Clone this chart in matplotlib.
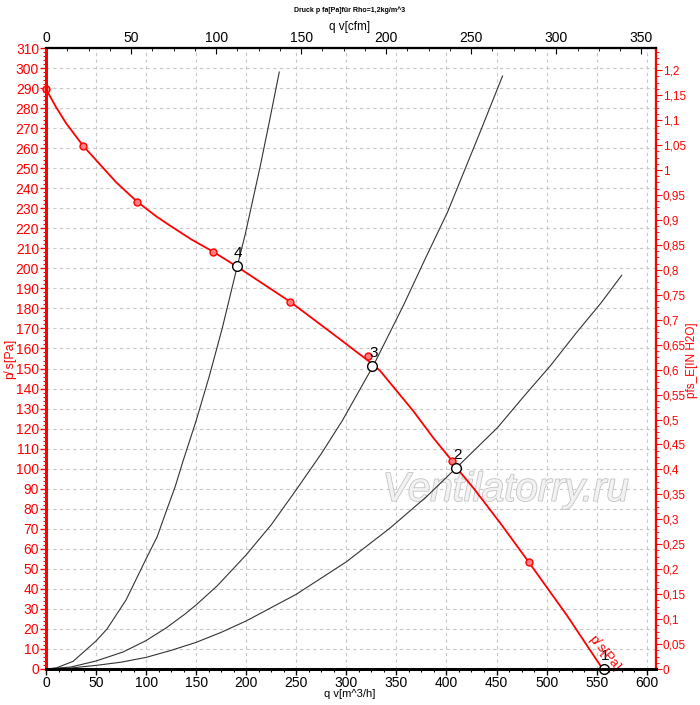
import matplotlib
matplotlib.use("Agg")
import matplotlib.pyplot as plt
from matplotlib.ticker import MultipleLocator, FuncFormatter
import matplotlib.patheffects as pe

plt.rcParams['font.family'] = ['Liberation Sans', 'DejaVu Sans']

# fan curve (q in m^3/h, p in Pa)
fan_q = [0, 10, 20, 37, 51, 70, 91, 110, 124, 145, 167, 191, 244, 294, 307, 321, 326, 334,
         367, 387, 406, 410, 427, 455, 482, 520, 556]
fan_p = [289.5, 280.5, 272.5, 261.2, 253.5, 243, 233.3, 226, 221.3, 214.5, 208.3, 200.8,
         183.3, 164.5, 159.5, 154.2, 152.3, 148.7, 128.7, 115.3, 103.7, 100.5, 90.3, 72,
         53.5, 27, 0]
mark_q = [0, 37.3, 90.7, 167.3, 244, 321.3, 405.7, 482]
mark_p = [289.5, 261.2, 233.3, 208.3, 183.3, 156.2, 103.7, 53.5]

# system curves
sys4_q = [0, 10, 27, 50, 61, 80, 100, 111, 121, 129, 137, 150, 163, 176, 191, 199, 214, 223, 233]
sys4_p = [0, 0.5, 3.8, 14, 20, 34.5, 55, 66, 80, 91, 104, 124, 146, 170, 201, 217, 251, 273, 298]
sys3_q = [0, 25, 50, 77, 100, 120, 139, 150, 171, 200, 225, 250, 275, 296, 327, 357, 379,
          401, 434, 456]
sys3_p = [0, 1, 4, 8.5, 14.2, 20.5, 27.5, 32, 41.5, 57, 72, 89.5, 107.5, 124, 151.5, 181.5,
          205, 228, 268.5, 296]
sys2_q = [0, 25, 50, 75, 100, 125, 150, 175, 200, 250, 300, 322, 344, 380, 410, 451, 478,
          504, 530, 554, 575]
sys2_p = [0, 0.5, 1.8, 3.4, 5.8, 9.3, 13.3, 18.3, 24, 37.3, 53.5, 62, 70.5, 86, 100.5, 120.5,
          136.5, 151.5, 168, 182.5, 196.5]

# operating points
op_q = [557, 410, 326, 191]
op_p = [0, 100.5, 151.5, 201]
op_lbl = ["1", "2", "3", "4"]

CFM = 1.699      # m^3/h per cfm
INH2O = 249.089  # Pa per inch H2O
xmax, ymax = 609.3, 310

fig = plt.figure(figsize=(7, 7.05), dpi=100)
ax = fig.add_axes([46/700, 1-669/705, 610/700, 621/705])
ax.set_xlim(0, xmax)
ax.set_ylim(0, ymax)

ax.grid(True, color="#c8c8c8", linestyle=(0, (3, 3)), linewidth=0.8)
ax.set_axisbelow(True)

for q, p in [(sys4_q, sys4_p), (sys3_q, sys3_p), (sys2_q, sys2_p)]:
    ax.plot(q, p, color="#333333", lw=0.8, zorder=3)

ax.plot(fan_q, fan_p, color="red", lw=1.3, zorder=4)
ax.plot(mark_q, mark_p, ls="none", marker="o", ms=5, mfc="#ff8080", mec="red", mew=1,
        zorder=5, clip_on=False)
ax.plot(op_q, op_p, ls="none", marker="o", ms=7, mfc="white", mec="black", mew=1,
        zorder=6, clip_on=False)
for q, p, t in zip(op_q, op_p, op_lbl):
    ax.text(q + 1, p + 3, t, fontsize=11, ha="center", va="bottom", zorder=7)

ax.text(559, 8, "p\u0338 s[Pa]", color="red", fontsize=9.5, rotation=-50,
        ha="center", va="center", zorder=7)

ax.text(459, 89.5, "Ventilatorry.ru", fontsize=29, style="italic", color="#f2f2f2",
        ha="center", va="center", zorder=1,
        path_effects=[pe.withStroke(linewidth=1.2, foreground="#c4c4c4")])

# left / bottom axes
ax.xaxis.set_major_locator(MultipleLocator(50))
ax.xaxis.set_minor_locator(MultipleLocator(12.5))
ax.yaxis.set_major_locator(MultipleLocator(10))
ax.yaxis.set_minor_locator(MultipleLocator(2))
ax.tick_params(axis="x", which="major", length=4, width=1, labelsize=10, pad=1)
ax.tick_params(axis="x", which="minor", length=2.5, width=0.8)
ax.tick_params(axis="y", which="major", length=4, width=1, labelsize=10, pad=1,
               colors="red")
ax.tick_params(axis="y", which="minor", length=2.5, width=0.8, colors="red")

ax.set_xlabel("q v[m^3/h]", fontsize=8)
ax.xaxis.set_label_coords(0.498, -0.032)
ax.set_ylabel("p\u0338 s[Pa]", fontsize=9, color="red")
ax.yaxis.set_label_coords(-0.047, 0.498)

# top axis (cfm)
top = ax.twiny()
top.set_xlim(0, xmax / CFM)
top.xaxis.set_major_locator(MultipleLocator(50))
top.xaxis.set_minor_locator(MultipleLocator(12.5))
top.tick_params(axis="x", which="major", direction="in", length=4, labelsize=10, pad=2)
top.tick_params(axis="x", which="minor", direction="in", length=2.5)
top.set_xlabel("q v[cfm]", fontsize=8.5)
top.xaxis.set_label_coords(0.498, 1.029)

# right axis (in H2O)
right = ax.twinx()
right.set_ylim(0, ymax / INH2O)
right.yaxis.set_major_locator(MultipleLocator(0.05))
right.yaxis.set_minor_locator(MultipleLocator(0.0125))
right.yaxis.set_major_formatter(FuncFormatter(lambda v, _: f"{round(v, 2):g}".replace(".", ",")))
right.tick_params(axis="y", which="major", length=4, labelsize=8.5, pad=1, colors="red")
right.tick_params(axis="y", which="minor", length=2.5, colors="red")
right.set_ylabel("pfs_E[IN H2O]", fontsize=8.5, color="red")
right.yaxis.set_label_coords(1.050, 0.498)

for a in (ax, top, right):
    a.spines["left"].set_color("red")
    a.spines["left"].set_linewidth(2)
    a.spines["right"].set_color("red")
    a.spines["right"].set_linewidth(1.5)
    a.spines["bottom"].set_linewidth(2)
    a.spines["top"].set_linewidth(1.5)

fig.text(0.5, 1 - 10/705, "Druck p fa[Pa]für Rho=1,2kg/m^3", fontsize=5,
         fontweight="bold", ha="center", va="center")

fig.savefig("out.png", dpi=100)
